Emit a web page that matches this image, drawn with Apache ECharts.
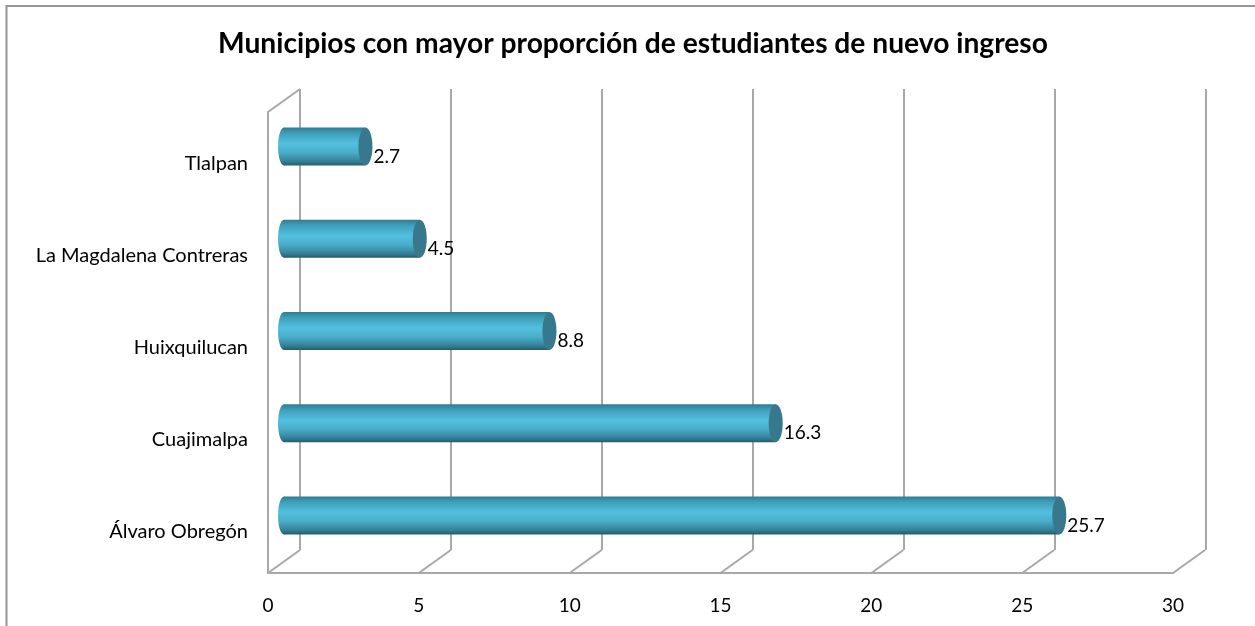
<!DOCTYPE html>
<html>
<head>
<meta charset="utf-8">
<style>
  html, body { margin: 0; padding: 0; background: #fff; }
  #chart { width: 1255px; height: 626px; }
</style>
<script src="https://cdn.jsdelivr.net/npm/echarts@6/dist/echarts.min.js"></script>
</head>
<body>
<div id="chart"></div>
<script>
const titleText = 'Municipios con mayor proporción de estudiantes de nuevo ingreso';
const categories = ['Álvaro Obregón', 'Cuajimalpa', 'Huixquilucan', 'La Magdalena Contreras', 'Tlalpan'];
const values = [25.7, 16.3, 8.8, 4.5, 2.7];
const ticks = [0, 5, 10, 15, 20, 25, 30];

const font = 'Lato, sans-serif';
const wallColor = '#a8a8a8';
// depth of the fake 3d box, in px
const depthX = 32;
const depthY = 23;

var graph = echarts.init(document.getElementById('chart'));

const valueAxis = {
  type: 'value',
  min: 0,
  max: 30,
  interval: 5,
  axisTick: { show: false },
  splitLine: { show: false },
  axisLine: { show: false },
  axisLabel: { show: false },
};
const catAxis = {
  type: 'category',
  data: categories,
  axisTick: { show: false },
  axisLine: { show: false },
  axisLabel: { show: false },
  splitLine: { show: false },
};

const barFill = new echarts.graphic.LinearGradient(0, 0, 0, 1, [
  { offset: 0, color: '#2f7c92' },
  { offset: 0.15, color: '#3f9fb9' },
  { offset: 0.42, color: '#53c0e0' },
  { offset: 0.65, color: '#4aaeca' },
  { offset: 0.88, color: '#35829a' },
  { offset: 1, color: '#285a6b' },
]);

function renderCylinder(params, api) {
  const start = api.coord([0, api.value(1)]);
  const end = api.coord([api.value(0), api.value(1)]);
  const h = 38;
  const y = end[1] - h / 2;
  return {
    type: 'group',
    children: [
      {
        type: 'ellipse',
        shape: { cx: start[0], cy: start[1], rx: 6, ry: h / 2 },
        style: { fill: barFill },
      },
      {
        type: 'rect',
        shape: { x: start[0], y: y, width: end[0] - start[0], height: h },
        style: { fill: barFill },
      },
      {
        type: 'ellipse',
        shape: { cx: end[0], cy: end[1], rx: 7, ry: h / 2 },
        style: { fill: '#37788c' },
      },
    ],
  };
}

function renderDiagonal(params, api) {
  const p = api.coord([api.value(0), 0]);
  return {
    type: 'line',
    shape: { x1: p[0], y1: p[1], x2: p[0] + depthX, y2: p[1] - depthY },
    style: { stroke: wallColor, lineWidth: 2 },
  };
}

function renderTopDiagonal(params, api) {
  const p = api.coord([0, 100]);
  return {
    type: 'line',
    shape: { x1: p[0], y1: p[1], x2: p[0] + depthX, y2: p[1] - depthY },
    style: { stroke: wallColor, lineWidth: 2 },
  };
}

const option = {
  animation: false,
  backgroundColor: '#fff',
  textStyle: { fontFamily: font },
  title: {
    text: titleText,
    left: 628,
    top: 25,
    textAlign: 'center',
    textStyle: { fontFamily: font, fontSize: 28.2, fontWeight: 'bold', color: '#000' },
  },
  // outer frame of the original picture: left and top edges only
  graphic: [
    { type: 'polyline', silent: true, shape: { points: [[6.5, 626], [6.5, 6], [1255, 6]] },
      style: { fill: 'none', stroke: '#969696', lineWidth: 2 } },
  ],
  grid: [
    // front edge: carries the floor line and left wall
    { left: 268, top: 112, width: 905, height: 461 },
    // back wall
    { left: 300, top: 89, width: 906, height: 461 },
    // middle depth: cylinders sit here
    { left: 284, top: 100.5, width: 905, height: 461 },
    // helper for the diagonals
    { left: 268, top: 112, width: 905, height: 461 },
    // category labels sit a little lower than the front band centres
    { left: 268, top: 117, width: 905, height: 461 },
  ],
  xAxis: [
    {
      ...valueAxis,
      gridIndex: 0,
      axisLine: { show: true, lineStyle: { color: wallColor, width: 2 } },
      axisLabel: { show: true, margin: 23, fontSize: 19, color: '#000', fontFamily: font },
    },
    {
      ...valueAxis,
      gridIndex: 1,
      splitLine: { show: true, lineStyle: { color: wallColor, width: 2 } },
    },
    { ...valueAxis, gridIndex: 2 },
    { ...valueAxis, gridIndex: 3 },
    { ...valueAxis, gridIndex: 4 },
  ],
  yAxis: [
    {
      ...catAxis,
      gridIndex: 0,
      axisLine: { show: true, lineStyle: { color: wallColor, width: 2 } },
    },
    { ...catAxis, gridIndex: 1 },
    { ...catAxis, gridIndex: 2 },
    { type: 'value', min: 0, max: 100, gridIndex: 3, show: false },
    {
      ...catAxis,
      gridIndex: 4,
      axisLabel: { show: true, margin: 20, fontSize: 20, color: '#000', fontFamily: font },
    },
  ],
  series: [
    {
      type: 'custom',
      xAxisIndex: 3,
      yAxisIndex: 3,
      silent: true,
      renderItem: renderDiagonal,
      encode: { x: 0 },
      data: ticks.map((t) => [t]),
    },
    {
      type: 'custom',
      xAxisIndex: 3,
      yAxisIndex: 3,
      silent: true,
      renderItem: renderTopDiagonal,
      data: [[0]],
    },
    {
      type: 'custom',
      xAxisIndex: 2,
      yAxisIndex: 2,
      renderItem: renderCylinder,
      encode: { x: 0, y: 1 },
      data: values.map((v, i) => [v, i]),
      z: 5,
    },
    // transparent bars only carry the value labels
    {
      type: 'bar',
      xAxisIndex: 2,
      yAxisIndex: 2,
      data: values,
      barWidth: 38,
      itemStyle: { color: 'transparent' },
      label: {
        show: true,
        position: 'right',
        distance: 8,
        offset: [0, 10],
        fontSize: 19,
        color: '#000',
        fontFamily: font,
        formatter: (p) => p.value.toFixed(1),
      },
      z: 6,
    },
  ],
};

if (option && typeof option === 'object') {
  graph.setOption(option);
}
</script>
</body>
</html>
